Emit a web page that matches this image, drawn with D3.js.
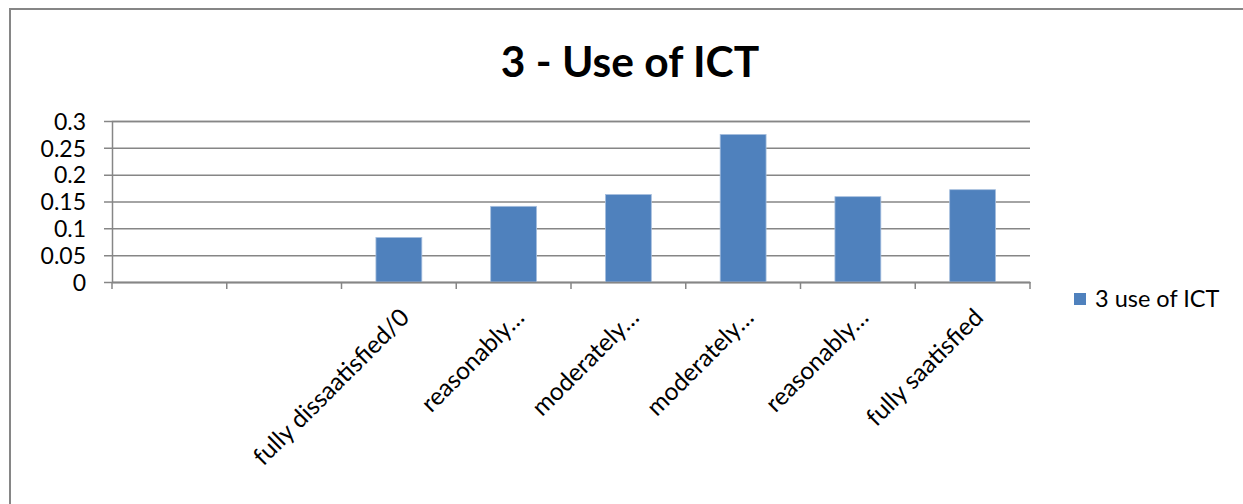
<!DOCTYPE html>
<html>
<head>
<meta charset="utf-8">
<script src="https://cdn.jsdelivr.net/npm/d3@7"></script>
<style>
  html, body { margin: 0; padding: 0; background: #fff; }
  svg { display: block; }
  text { font-family: Lato, "Open Sans", sans-serif; fill: #000; }
</style>
</head>
<body>
<svg id="chart" width="1243" height="504"></svg>
<script>
const chartTitle = "3 - Use of ICT";
const seriesName = "3 use of ICT";
const categories = ["", "", "fully dissaatisfied/0", "reasonably…", "moderately…", "moderately…", "reasonably…", "fully saatisfied"];
const values = [null, null, 0.083, 0.141, 0.163, 0.275, 0.159, 0.172];
const yTicks = [0, 0.05, 0.1, 0.15, 0.2, 0.25, 0.3];
const yTickLabels = ["0", "0.05", "0.1", "0.15", "0.2", "0.25", "0.3"];

const svg = d3.select("#chart");
const W = 1243, H = 504;
const plot = { left: 112, right: 1030, top: 121, bottom: 282 };
const gridColor = "#868686";
const barColor = "#4F81BD";

// outer border
svg.append("rect")
  .attr("x", 10).attr("y", 9)
  .attr("width", W + 20).attr("height", H + 20)
  .attr("fill", "#fff")
  .attr("stroke", gridColor).attr("stroke-width", 2);

// title
svg.append("text")
  .attr("x", 630).attr("y", 77)
  .attr("text-anchor", "middle")
  .attr("font-size", 42.5).attr("font-weight", "bold")
  .text(chartTitle);

const x = d3.scaleBand()
  .domain(d3.range(categories.length))
  .range([plot.left, plot.right])
  .paddingInner(0).paddingOuter(0);

const y = d3.scaleLinear()
  .domain([0, 0.3])
  .range([plot.bottom, plot.top]);

// gridlines via axis
const yAxis = d3.axisLeft(y)
  .tickValues(yTicks)
  .tickSize(-(plot.right - plot.left))
  .tickFormat((d, i) => yTickLabels[i]);

const gy = svg.append("g")
  .attr("transform", `translate(${plot.left},0)`)
  .call(yAxis);
gy.select(".domain").attr("stroke", gridColor).attr("stroke-width", 1.5);
gy.selectAll(".tick line")
  .attr("x1", -8)
  .attr("stroke", gridColor).attr("stroke-width", 1.5);
gy.selectAll(".tick text")
  .attr("x", -26)
  .attr("dy", "0.36em")
  .attr("font-size", 23)
  .attr("font-family", "Lato, sans-serif")
  .attr("fill", "#000");

// bars
const barW = x.bandwidth() / 2.5;
svg.append("g").selectAll("rect")
  .data(values.map((v, i) => ({ v, i })).filter(d => d.v !== null))
  .join("rect")
  .attr("x", d => x(d.i) + (x.bandwidth() - barW) / 2)
  .attr("y", d => y(d.v))
  .attr("width", barW)
  .attr("height", d => y(0) - y(d.v))
  .attr("fill", barColor)
  .attr("stroke", "#A7BFDE").attr("stroke-width", 0.8);

// x axis
const xAxis = d3.axisBottom(x).tickSize(0).tickFormat(() => "");
const gx = svg.append("g")
  .attr("transform", `translate(0,${plot.bottom})`)
  .call(xAxis);
gx.select(".domain").attr("stroke", gridColor).attr("stroke-width", 1.5);
gx.selectAll(".tick").remove();

// category boundary tick marks
const boundaries = d3.range(categories.length + 1).map(i => plot.left + i * x.bandwidth());
svg.append("g").selectAll("line")
  .data(boundaries)
  .join("line")
  .attr("x1", d => d).attr("x2", d => d)
  .attr("y1", plot.bottom).attr("y2", plot.bottom + 7)
  .attr("stroke", gridColor).attr("stroke-width", 1.5);

// category labels
svg.append("g").selectAll("text")
  .data(categories.map((c, i) => ({ c, i })).filter(d => d.c !== ""))
  .join("text")
  .attr("text-anchor", "end")
  .attr("font-size", 24.5)
  .attr("transform", d => `translate(${x(d.i) + x.bandwidth() / 2 + 12},${plot.bottom + 37}) rotate(-45)`)
  .text(d => d.c);

// legend
const lg = svg.append("g").attr("transform", "translate(1074,293)");
lg.append("rect").attr("width", 12).attr("height", 12).attr("fill", barColor);
lg.append("text").attr("x", 21).attr("y", 6).attr("dy", "0.36em")
  .attr("font-size", 23.5).text(seriesName);
</script>
</body>
</html>
